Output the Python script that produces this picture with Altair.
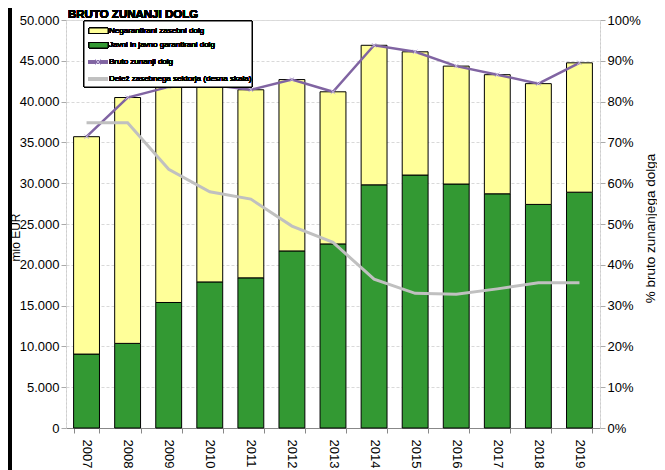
import altair as alt
import pandas as pd

years = ["2007", "2008", "2009", "2010", "2011", "2012", "2013",
         "2014", "2015", "2016", "2017", "2018", "2019"]
javni = [9060, 10370, 15380, 17900, 18400, 21700, 22560,
         29800, 31000, 29900, 28700, 27400, 28900]
bruto = [35700, 40500, 41800, 42050, 41450, 42700, 41200,
         46900, 46100, 44350, 43300, 42200, 44750]
delez = [0.748, 0.748, 0.634, 0.579, 0.561, 0.495, 0.455,
         0.365, 0.330, 0.328, 0.341, 0.356, 0.356]

left_ticks = [0, 5000, 10000, 15000, 20000, 25000, 30000, 35000, 40000, 45000, 50000]
right_ticks = [0, 0.1, 0.2, 0.3, 0.4, 0.5, 0.6, 0.7, 0.8, 0.9, 1.0]

legend_labels = ["Negarantirani zasebni dolg", "Javni in javno garantirani dolg",
                 "Bruto zunanji dolg", "Delež zasebnega sektorja (desna skala)"]

df = pd.DataFrame({"leto": years, "javni": javni, "bruto": bruto, "delez": delez})

FONT = "Liberation Sans"
W, H = 534, 408

x_enc = alt.X("leto:N", sort=years,
              scale=alt.Scale(paddingInner=0.37, paddingOuter=0.185),
              axis=alt.Axis(title=None, labelAngle=90, labelAlign="left",
                            labelBaseline="middle", labelFontSize=13, labelColor="black",
                            labelFont=FONT, labelPadding=6, tickBand="extent",
                            tickSize=5, tickColor="#888888", domainColor="#888888",
                            grid=False))

left_scale = alt.Scale(domain=[0, 50000], nice=False)
left_axis = alt.Axis(title="mio EUR", values=left_ticks,
                     labelExpr="replace(format(datum.value, ',d'), ',', '.')",
                     labelFontSize=13, labelFont=FONT, labelColor="black",
                     tickSize=5, tickColor="#aaaaaa", domainColor="#cccccc",
                     domainDash=[2, 2], gridColor="#d9d9d9", gridDash=[3, 2],
                     titleFont=FONT, titleFontSize=12, titleFontWeight="normal",
                     titleColor="black", titleAngle=270, titleX=-51, titleY=217,
                     titleAlign="center", titleBaseline="middle")

base = alt.Chart(df)

green = base.mark_bar(color="#339933", stroke="black", strokeWidth=1).encode(
    x=x_enc,
    y=alt.Y("javni:Q", scale=left_scale, axis=left_axis),
)
yellow = base.mark_bar(color="#FFFF99", stroke="black", strokeWidth=1).encode(
    x=x_enc,
    y=alt.Y("javni:Q", scale=left_scale),
    y2="bruto:Q",
)
bruto_line = base.mark_line(color="#8064A2", strokeWidth=2.5).encode(
    x=x_enc, y=alt.Y("bruto:Q", scale=left_scale))
bruto_pts = base.mark_point(shape="M-1,-1L1,1M1,-1L-1,1", size=20, filled=False,
                            stroke="#C3B6DC", strokeWidth=1, opacity=1).encode(
    x=x_enc, y=alt.Y("bruto:Q", scale=left_scale))

left_layer = alt.layer(green, yellow, bruto_line, bruto_pts)

right_line = base.mark_line(color="#C0C0C0", strokeWidth=3).encode(
    x=x_enc,
    y=alt.Y("delez:Q", scale=alt.Scale(domain=[0, 1], nice=False),
            axis=alt.Axis(orient="right", title="% bruto zunanjega dolga",
                          values=right_ticks, format=".0%", grid=False,
                          labelFontSize=13, labelFont=FONT, labelColor="black",
                          tickSize=5, tickColor="#aaaaaa", domainColor="#cccccc",
                          domainDash=[2, 2], titleFont=FONT, titleFontSize=13.5,
                          titleFontWeight="normal", titleColor="black",
                          titleAngle=270, titleX=50, titleY=208,
                          titleAlign="center", titleBaseline="middle")))

# decorations: page border line, title, legend
border = alt.Chart(df).mark_rule(color="black", strokeWidth=3).encode(
    x=alt.value(-56), y=alt.value(-14), y2=alt.value(450))
title = alt.Chart(df).mark_text(text="BRUTO ZUNANJI DOLG", font=FONT, fontSize=11.5,
                                fontWeight="bold", align="left", baseline="bottom",
                                color="black").encode(x=alt.value(2), y=alt.value(0))
leg_box = alt.Chart(df).mark_rect(fill="white", stroke="black", strokeWidth=1).encode(
    x=alt.value(18), x2=alt.value(186), y=alt.value(1), y2=alt.value(67))
sw1 = alt.Chart(df).mark_rect(fill="#FFFF99", stroke="black", strokeWidth=1).encode(
    x=alt.value(23), x2=alt.value(42), y=alt.value(8), y2=alt.value(13.5))
sw2 = alt.Chart(df).mark_rect(fill="#339933", stroke="black", strokeWidth=1).encode(
    x=alt.value(23), x2=alt.value(42), y=alt.value(22.5), y2=alt.value(28))
sw3 = alt.Chart(df).mark_rule(color="#8064A2", strokeWidth=2.5).encode(
    x=alt.value(22), x2=alt.value(42), y=alt.value(42))
sw3p = alt.Chart(df).mark_point(shape="M-1,-1L1,1M1,-1L-1,1", size=20, filled=False,
                                stroke="#C3B6DC", strokeWidth=1, opacity=1).encode(
    x=alt.value(32), y=alt.value(42))
sw4 = alt.Chart(df).mark_rule(color="#C0C0C0", strokeWidth=3).encode(
    x=alt.value(22), x2=alt.value(42), y=alt.value(59))
leg_texts = []
for lbl, yy in zip(legend_labels, [11.3, 25.3, 42, 59]):
    leg_texts.append(alt.Chart(df).mark_text(text=lbl, font=FONT, fontSize=8,
                                             fontWeight="normal",
                                             align="left", baseline="middle",
                                             color="black").encode(
        x=alt.value(43), y=alt.value(yy)))

deco = alt.layer(border, title, leg_box, sw1, sw2, sw3, sw3p, sw4, *leg_texts)

chart = alt.layer(left_layer, right_line, deco).resolve_scale(y="independent").properties(
    width=W, height=H,
    padding={"left": 58, "top": 12, "right": 57, "bottom": 42},
    autosize=alt.AutoSizeParams(type="none"),
).configure_view(stroke=None).configure(background="white")

chart.save("out.html", embed_options={"renderer": "svg", "actions": False})
